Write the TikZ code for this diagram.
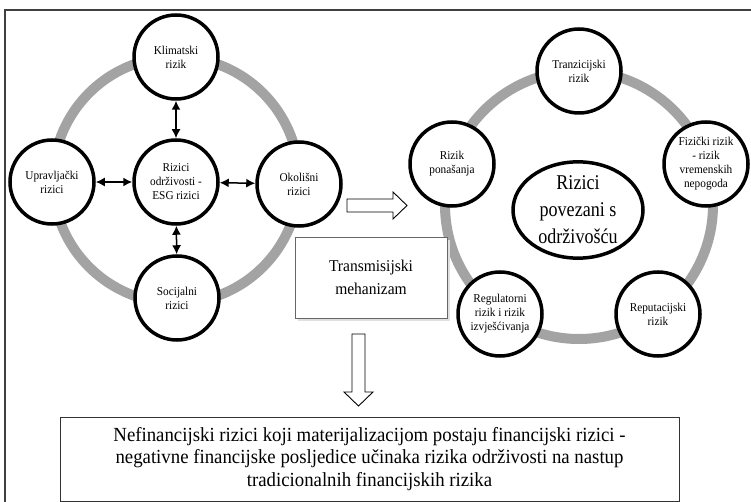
\documentclass[tikz,border=0pt]{standalone}
\usepackage{fontspec}
\setmainfont{Liberation Serif}
\newfontfamily\condfont[FakeStretch=0.94]{Liberation Serif}
\newfontfamily\narrowfont[FakeStretch=0.86]{Liberation Serif}
\usetikzlibrary{arrows.meta,shapes.geometric}
\definecolor{ringgray}{HTML}{A3A3A3}
\begin{document}
\begin{tikzpicture}[x=1pt,y=-1pt,
  risk/.style={circle,draw=black,line width=3.5pt,fill=white,minimum size=84pt,inner sep=0pt,align=center,font=\condfont\fontsize{12}{14}\selectfont},
  ring/.style={draw=ringgray,line width=10pt},
  dbl/.style={{Latex[length=9pt,width=9pt]}-{Latex[length=9pt,width=9pt]},line width=1.5pt},
  hollow/.style={draw=black,line width=0.9pt,fill=white,line join=miter},
  textbox/.style={draw=black!60,line width=0.8pt,fill=white,align=center,inner sep=0pt}]
\useasboundingbox (0,0) rectangle (751,502);
\fill[white] (0,0) rectangle (751,502);
% frame
\draw[line width=1.4pt,black!75] (5,502) -- (5,10) -- (751,10);
% left group
\draw[ring] (176,180) circle [radius=123pt];
\node[risk] (klim) at (176,57) {Klimatski\\rizik};
\node[risk] (upr) at (52,182) {Upravljački\\rizici};
\node[risk] (esg) at (176,182) {Rizici\\održivosti -\\ESG rizici};
\node[risk] (oko) at (299,184) {Okolišni\\rizici};
\node[risk] (soc) at (177,298) {Socijalni\\rizici};
\draw[dbl] (klim) -- (esg);
\draw[dbl] (upr) -- (esg);
\draw[dbl] (esg) -- (oko);
\draw[dbl] (esg) -- (soc);
% right group
\draw[ring] (579,205) circle [radius=134pt];
\node[risk] (tranz) at (579,71) {Tranzicijski\\rizik};
\node[risk] (pon) at (452,164) {Rizik\\ponašanja};
\node[risk] (fiz) at (706,164) {Fizički rizik\\- rizik\\vremenskih\\nepogoda};
\node[risk] (reg) at (500,314) {Regulatorni\\rizik i rizik\\izvješćivanja};
\node[risk] (rep) at (658,314) {Reputacijski\\rizik};
\node[ellipse,draw=black,line width=3.5pt,fill=white,minimum width=130pt,minimum height=94pt,inner sep=0pt,align=center,font=\narrowfont\fontsize{21}{27}\selectfont] (main) at (578,210) {Rizici\\povezani s\\održivošću};
% transmission box
\fill[black!12] (298,240) rectangle (450,321);
\node[textbox,minimum width=152pt,minimum height=81pt,font=\condfont\fontsize{16.5}{23}\selectfont] (trans) at (371,277.5) {Transmisijski\\mehanizam};
% hollow arrows
\draw[hollow] (347,199) -- (393,199) -- (393,192) -- (407,205.5) -- (393,219) -- (393,212) -- (347,212) -- cycle;
\draw[hollow] (352,334) -- (365,334) -- (365,392) -- (373,392) -- (358.5,406) -- (344,392) -- (352,392) -- cycle;
% bottom box
\node[textbox,draw=black!80,minimum width=619pt,minimum height=84pt,font=\condfont\fontsize{20}{22.7}\selectfont] (res) at (369.5,459) {Nefinancijski rizici koji materijalizacijom postaju financijski rizici -\\negativne financijske posljedice učinaka rizika održivosti na nastup\\tradicionalnih financijskih rizika};
\end{tikzpicture}
\end{document}
